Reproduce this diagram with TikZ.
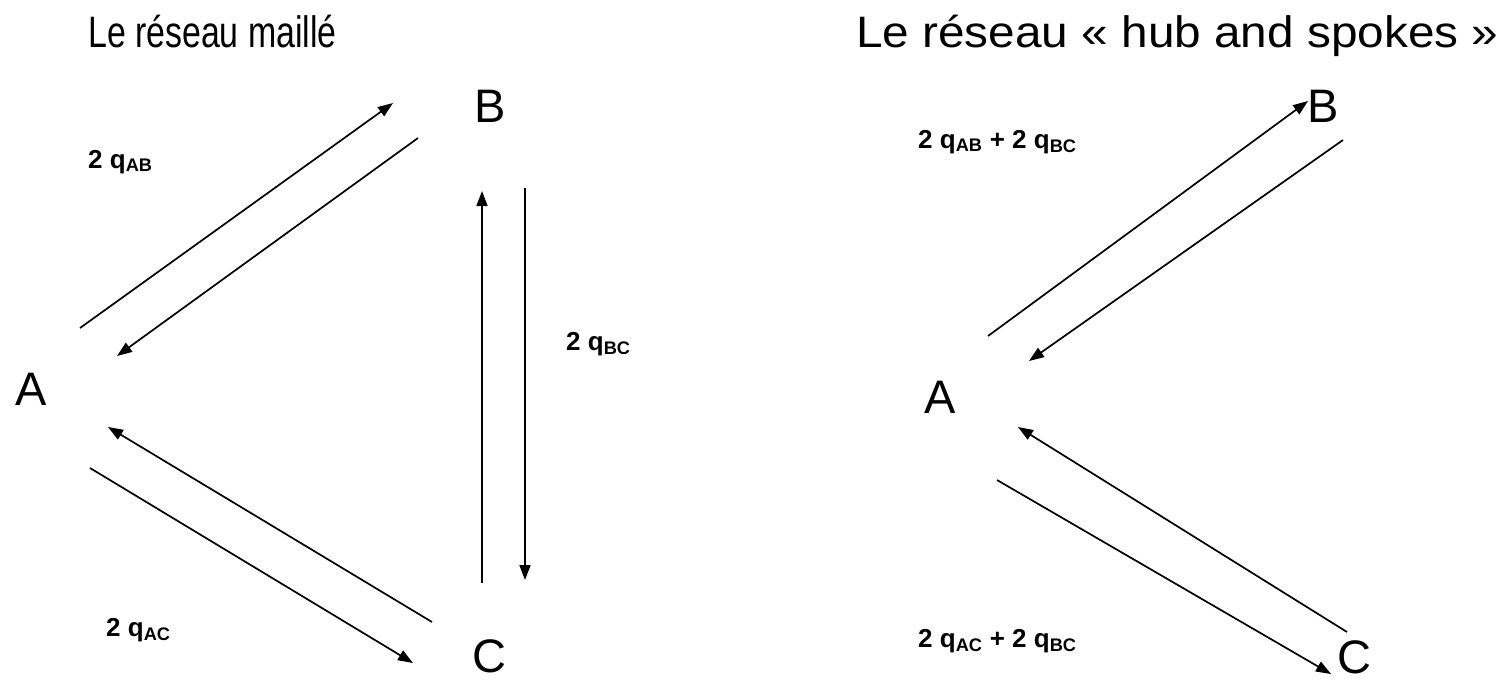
\documentclass[tikz,border=0pt]{standalone}
\usepackage{fontspec}
\setmainfont{Liberation Sans}
\usetikzlibrary{arrows.meta}
\tikzset{
  title/.style={anchor=base west,inner sep=0pt,font=\fontsize{44}{48}\selectfont},
  vertex/.style={anchor=base west,inner sep=0pt,font=\fontsize{47}{50}\selectfont},
  flow/.style={anchor=base west,inner sep=0pt,font=\bfseries\fontsize{26}{28}\selectfont},
  arr/.style={line width=1.7pt,-{Triangle[length=15pt,width=11pt]}},
}
\begin{document}
\begin{tikzpicture}[x=1pt,y=-1pt]
\useasboundingbox (0,0) rectangle (1501,681);
% titles
\node[title] (t1) at (88,47) {\scalebox{0.77}[1]{Le réseau maillé}};
\node[title] (t2) at (856,47) {\scalebox{1.085}[1]{Le réseau « hub and spokes »}};
% left network
\node[vertex] (A1) at (15,405) {A};
\node[vertex] (B1) at (474,122) {B};
\node[vertex] (C1) at (472,672) {C};
\coordinate (ab1s) at (80,328);  \coordinate (ab1e) at (393,103);
\coordinate (ba1s) at (418,138); \coordinate (ba1e) at (117,356);
\coordinate (cb1s) at (482,583); \coordinate (cb1e) at (482,191);
\coordinate (bc1s) at (525,188); \coordinate (bc1e) at (525,580);
\coordinate (ca1s) at (432,622); \coordinate (ca1e) at (108,427);
\coordinate (ac1s) at (90,468);  \coordinate (ac1e) at (413,663);
\draw[arr] (ab1s) -- (ab1e);
\draw[arr] (ba1s) -- (ba1e);
\draw[arr] (cb1s) -- (cb1e);
\draw[arr] (bc1s) -- (bc1e);
\draw[arr] (ca1s) -- (ca1e);
\draw[arr] (ac1s) -- (ac1e);
\node[flow] (l1) at (88,168) {2 q\textsubscript{AB}};
\node[flow] (l2) at (566,350) {2 q\textsubscript{BC}};
\node[flow] (l3) at (106,636) {2 q\textsubscript{AC}};
% right network
\node[vertex] (A2) at (924,413) {A};
\node[vertex] (B2) at (1307,122) {B};
\node[vertex] (C2) at (1337,673) {C};
\coordinate (ab2s) at (988,336);  \coordinate (ab2e) at (1308,101);
\coordinate (ba2s) at (1343,140); \coordinate (ba2e) at (1029,361);
\coordinate (ca2s) at (1347,632); \coordinate (ca2e) at (1018,427);
\coordinate (ac2s) at (997,480);  \coordinate (ac2e) at (1331,674);
\draw[arr] (ab2s) -- (ab2e);
\draw[arr] (ba2s) -- (ba2e);
\draw[arr] (ca2s) -- (ca2e);
\draw[arr] (ac2s) -- (ac2e);
\node[flow] (l4) at (918,148) {2 q\textsubscript{AB} + 2 q\textsubscript{BC}};
\node[flow] (l5) at (918,647) {2 q\textsubscript{AC} + 2 q\textsubscript{BC}};
\end{tikzpicture}
\end{document}
